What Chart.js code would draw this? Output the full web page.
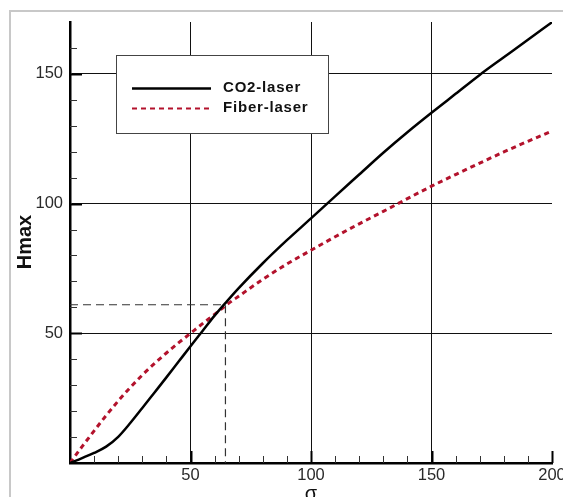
<!DOCTYPE html>
<html>
<head>
<meta charset="utf-8">
<script src="https://cdn.jsdelivr.net/npm/chart.js@4.4.1/dist/chart.umd.min.js"></script>
<style>
  html, body { margin: 0; padding: 0; background: #fff; }
  #wrap { width: 563px; height: 497px; }
</style>
</head>
<body>
<div id="wrap"><canvas id="hmaxChart" width="563" height="497"></canvas></div>
<script>
// ===============================
// Data
// ===============================

const seriesNames = ["CO2-laser", "Fiber-laser"];

const sigma = [0, 5, 10, 15, 20, 25, 30, 35, 40, 45, 50, 55, 60, 65, 70,
               80, 90, 100, 110, 120, 130, 140, 150, 160, 170, 180, 190, 200];

const co2Hmax = [0, 1.9, 3.9, 6.3, 10.1, 15.4, 21.2, 27.1, 33.0, 39.0, 45, 50.9, 56.8, 62.2, 67.4,
                 77.0, 85.9, 94.3, 102.8, 111.2, 119.6, 127.5, 135, 142.3, 149.6, 156.4, 163.2, 169.9];

const fiberHmax = [0, 6.3, 12.4, 18.3, 23.9, 29.1, 33.9, 38.3, 42.4, 46.3, 50, 53.7, 57.3, 61, 64.3,
                   70.8, 76.7, 82, 87.2, 92.2, 97, 101.9, 106.7, 111.2, 115.6, 119.9, 124, 128];

// dashed guide to the crossing point
const guideX = [0, 64.5, 64.5];
const guideY = [61, 61, 0];

const xTickLabels = [50, 100, 150, 200];
const yTickLabels = [50, 100, 150];

// ===============================
// Helpers
// ===============================

const FONT = "'Liberation Sans', Arial, sans-serif";
const RED = "#b3122c";

function pts(xs, ys){
    return xs.map((x, i) => ({ x: x, y: ys[i] }));
}

// ===============================
// Plugin: frame, inward ticks, legend, titles
// ===============================

const decorPlugin = {
    id: "decor",
    beforeDraw(chart){
        const c = chart.ctx;
        c.save();
        c.strokeStyle = "#c8c8c8";
        c.lineWidth = 2;
        c.beginPath();
        c.moveTo(10, 497);
        c.lineTo(10, 11);
        c.lineTo(563, 11);
        c.stroke();
        c.restore();
    },
    afterDatasetsDraw(chart){
        const c = chart.ctx;
        const xs = chart.scales.x;
        const ys = chart.scales.y;
        const area = chart.chartArea;

        c.save();

        // inward ticks on x axis
        xs.ticks.forEach(t => {
            if(t.value === 0) return;
            const px = Math.round(xs.getPixelForValue(t.value)) + 0.5;
            const major = t.value % 50 === 0;
            c.strokeStyle = major ? "#000" : "#333";
            c.lineWidth = major ? 2 : 1;
            c.beginPath();
            c.moveTo(px, area.bottom);
            c.lineTo(px, area.bottom - (major ? 12 : 7));
            c.stroke();
        });

        // inward ticks on y axis (none at the very top)
        ys.ticks.forEach(t => {
            if(t.value === 0 || t.value === ys.max) return;
            const py = Math.round(ys.getPixelForValue(t.value)) + 0.5;
            const major = t.value % 50 === 0;
            c.strokeStyle = major ? "#000" : "#333";
            c.lineWidth = major ? 2 : 1;
            c.beginPath();
            c.moveTo(area.left, py);
            c.lineTo(area.left + (major ? 12 : 7), py);
            c.stroke();
        });

        // legend box
        c.fillStyle = "#fff";
        c.fillRect(116, 55, 212, 78);
        c.strokeStyle = "#444";
        c.lineWidth = 1;
        c.strokeRect(116.5, 55.5, 212, 78);

        c.lineWidth = 2.5;
        c.strokeStyle = "#000";
        c.beginPath();
        c.moveTo(132, 88.5);
        c.lineTo(211, 88.5);
        c.stroke();

        c.strokeStyle = RED;
        c.lineWidth = 2;
        c.setLineDash([5, 4]);
        c.beginPath();
        c.moveTo(132, 108.5);
        c.lineTo(211, 108.5);
        c.stroke();
        c.setLineDash([]);

        c.fillStyle = "#111";
        c.font = "bold 15px " + FONT;
        c.letterSpacing = "0.8px";
        c.textBaseline = "middle";
        c.textAlign = "left";
        c.fillText(seriesNames[0], 223, 88);
        c.fillText(seriesNames[1], 223, 108);
        c.letterSpacing = "0px";

        // axis titles
        c.fillStyle = "#111";
        c.font = "bold 20px " + FONT;
        c.textAlign = "center";
        c.textBaseline = "middle";
        c.translate(25, 242);
        c.rotate(-Math.PI / 2);
        c.fillText("Hmax", 0, 0);
        c.setTransform(1, 0, 0, 1, 0, 0);

        c.font = "20px " + FONT;
        c.textBaseline = "alphabetic";
        c.fillText("σ", 311, 500);

        c.restore();
    }
};

// ===============================
// Chart
// ===============================

const ctx = document.getElementById("hmaxChart");

const chart = new Chart(ctx, {
    type: "line",
    data: {
        datasets: [
            {
                label: seriesNames[0],
                data: pts(sigma, co2Hmax),
                borderColor: "#000",
                borderWidth: 2.5,
                pointRadius: 0,
                cubicInterpolationMode: "monotone",
                order: 0
            },
            {
                label: seriesNames[1],
                data: pts(sigma, fiberHmax),
                borderColor: RED,
                borderWidth: 3,
                borderDash: [5, 4],
                pointRadius: 0,
                cubicInterpolationMode: "monotone",
                order: 1
            },
            {
                label: "guide",
                data: pts(guideX, guideY),
                borderColor: "#333",
                borderWidth: 1.2,
                borderDash: [8, 5],
                pointRadius: 0,
                tension: 0,
                order: 2
            }
        ]
    },
    options: {
        responsive: false,
        animation: false,
        events: [],
        layout: {
            padding: { top: 22, right: 11, bottom: 0, left: 0 }
        },
        plugins: {
            legend: { display: false },
            tooltip: { enabled: false }
        },
        scales: {
            x: {
                type: "linear",
                min: 0,
                max: 200,
                ticks: {
                    stepSize: 10,
                    padding: 3,
                    color: "#2a2a2a",
                    font: { family: FONT, size: 16.5 },
                    maxRotation: 0,
                    autoSkip: false,
                    callback: v => xTickLabels.includes(v) ? String(v) : ""
                },
                grid: {
                    drawTicks: false,
                    lineWidth: 1,
                    color: c => (c.tick && [50, 100, 150].includes(c.tick.value)) ? "#111" : "rgba(0,0,0,0)"
                },
                border: { display: true, color: "#000", width: 2.5 },
                afterFit: s => {
                    s.height = 34;
                    s.paddingLeft = 0;
                    s.paddingRight = 0;
                }
            },
            y: {
                type: "linear",
                min: 0,
                max: 170,
                ticks: {
                    stepSize: 10,
                    padding: 7,
                    color: "#2a2a2a",
                    font: { family: FONT, size: 16.5 },
                    autoSkip: false,
                    callback: v => yTickLabels.includes(v) ? String(v) : ""
                },
                grid: {
                    drawTicks: false,
                    lineWidth: 1,
                    color: c => (c.tick && [50, 100, 150].includes(c.tick.value)) ? "#111" : "rgba(0,0,0,0)"
                },
                border: { display: true, color: "#000", width: 2.5 },
                afterFit: s => {
                    s.width = 70;
                    s.paddingTop = 0;
                    s.paddingBottom = 0;
                }
            }
        }
    },
    plugins: [decorPlugin]
});
</script>
</body>
</html>
